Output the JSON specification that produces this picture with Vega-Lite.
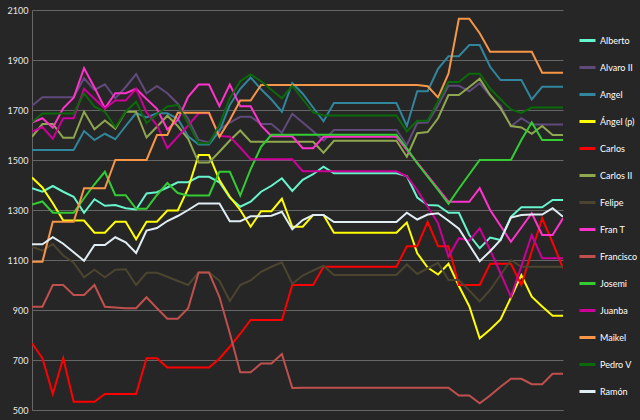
{
"$schema": "https://vega.github.io/schema/vega-lite/v6.json",
"width": 531, "height": 400,
"autosize": {"type": "none"},
"padding": {"left": 32, "top": 10, "right": 77, "bottom": 10},
"background": "#262626",
"config": {"view": {"stroke": null}, "font": "Lato"},
"data": {"values": [
{"s":"Alberto","x":0,"y":1387},{"s":"Alberto","x":1,"y":1373},{"s":"Alberto","x":2,"y":1396},{"s":"Alberto","x":3,"y":1373},{"s":"Alberto","x":4,"y":1353},{"s":"Alberto","x":5,"y":1289},{"s":"Alberto","x":6,"y":1343},{"s":"Alberto","x":7,"y":1317},{"s":"Alberto","x":8,"y":1320},{"s":"Alberto","x":9,"y":1307},{"s":"Alberto","x":10,"y":1302},{"s":"Alberto","x":11,"y":1366},{"s":"Alberto","x":12,"y":1371},{"s":"Alberto","x":13,"y":1390},{"s":"Alberto","x":14,"y":1411},{"s":"Alberto","x":15,"y":1411},{"s":"Alberto","x":16,"y":1433},{"s":"Alberto","x":17,"y":1433},{"s":"Alberto","x":18,"y":1411},{"s":"Alberto","x":19,"y":1350},{"s":"Alberto","x":20,"y":1313},{"s":"Alberto","x":21,"y":1333},{"s":"Alberto","x":22,"y":1373},{"s":"Alberto","x":23,"y":1397},{"s":"Alberto","x":24,"y":1427},{"s":"Alberto","x":25,"y":1376},{"s":"Alberto","x":26,"y":1421},{"s":"Alberto","x":27,"y":1443},{"s":"Alberto","x":28,"y":1473},{"s":"Alberto","x":29,"y":1447},{"s":"Alberto","x":30,"y":1447},{"s":"Alberto","x":31,"y":1447},{"s":"Alberto","x":32,"y":1447},{"s":"Alberto","x":33,"y":1447},{"s":"Alberto","x":34,"y":1447},{"s":"Alberto","x":35,"y":1447},{"s":"Alberto","x":36,"y":1436},{"s":"Alberto","x":37,"y":1350},{"s":"Alberto","x":38,"y":1320},{"s":"Alberto","x":39,"y":1318},{"s":"Alberto","x":40,"y":1289},{"s":"Alberto","x":41,"y":1289},{"s":"Alberto","x":42,"y":1200},{"s":"Alberto","x":43,"y":1147},{"s":"Alberto","x":44,"y":1190},{"s":"Alberto","x":45,"y":1180},{"s":"Alberto","x":46,"y":1273},{"s":"Alberto","x":47,"y":1311},{"s":"Alberto","x":48,"y":1311},{"s":"Alberto","x":49,"y":1311},{"s":"Alberto","x":50,"y":1340},{"s":"Alberto","x":51,"y":1340},
{"s":"Alvaro II","x":0,"y":1717},{"s":"Alvaro II","x":1,"y":1751},{"s":"Alvaro II","x":2,"y":1751},{"s":"Alvaro II","x":3,"y":1751},{"s":"Alvaro II","x":4,"y":1751},{"s":"Alvaro II","x":5,"y":1827},{"s":"Alvaro II","x":6,"y":1780},{"s":"Alvaro II","x":7,"y":1803},{"s":"Alvaro II","x":8,"y":1747},{"s":"Alvaro II","x":9,"y":1792},{"s":"Alvaro II","x":10,"y":1844},{"s":"Alvaro II","x":11,"y":1767},{"s":"Alvaro II","x":12,"y":1796},{"s":"Alvaro II","x":13,"y":1767},{"s":"Alvaro II","x":14,"y":1725},{"s":"Alvaro II","x":15,"y":1665},{"s":"Alvaro II","x":16,"y":1580},{"s":"Alvaro II","x":17,"y":1570},{"s":"Alvaro II","x":18,"y":1622},{"s":"Alvaro II","x":19,"y":1650},{"s":"Alvaro II","x":20,"y":1673},{"s":"Alvaro II","x":21,"y":1673},{"s":"Alvaro II","x":22,"y":1644},{"s":"Alvaro II","x":23,"y":1644},{"s":"Alvaro II","x":24,"y":1609},{"s":"Alvaro II","x":25,"y":1685},{"s":"Alvaro II","x":26,"y":1650},{"s":"Alvaro II","x":27,"y":1615},{"s":"Alvaro II","x":28,"y":1578},{"s":"Alvaro II","x":29,"y":1620},{"s":"Alvaro II","x":30,"y":1620},{"s":"Alvaro II","x":31,"y":1620},{"s":"Alvaro II","x":32,"y":1620},{"s":"Alvaro II","x":33,"y":1620},{"s":"Alvaro II","x":34,"y":1620},{"s":"Alvaro II","x":35,"y":1620},{"s":"Alvaro II","x":36,"y":1560},{"s":"Alvaro II","x":37,"y":1648},{"s":"Alvaro II","x":38,"y":1650},{"s":"Alvaro II","x":39,"y":1718},{"s":"Alvaro II","x":40,"y":1797},{"s":"Alvaro II","x":41,"y":1797},{"s":"Alvaro II","x":42,"y":1775},{"s":"Alvaro II","x":43,"y":1807},{"s":"Alvaro II","x":44,"y":1757},{"s":"Alvaro II","x":45,"y":1718},{"s":"Alvaro II","x":46,"y":1635},{"s":"Alvaro II","x":47,"y":1667},{"s":"Alvaro II","x":48,"y":1642},{"s":"Alvaro II","x":49,"y":1642},{"s":"Alvaro II","x":50,"y":1642},{"s":"Alvaro II","x":51,"y":1642},
{"s":"Angel","x":0,"y":1540},{"s":"Angel","x":1,"y":1540},{"s":"Angel","x":2,"y":1540},{"s":"Angel","x":3,"y":1540},{"s":"Angel","x":4,"y":1540},{"s":"Angel","x":5,"y":1616},{"s":"Angel","x":6,"y":1580},{"s":"Angel","x":7,"y":1605},{"s":"Angel","x":8,"y":1583},{"s":"Angel","x":9,"y":1636},{"s":"Angel","x":10,"y":1688},{"s":"Angel","x":11,"y":1670},{"s":"Angel","x":12,"y":1687},{"s":"Angel","x":13,"y":1687},{"s":"Angel","x":14,"y":1665},{"s":"Angel","x":15,"y":1595},{"s":"Angel","x":16,"y":1562},{"s":"Angel","x":17,"y":1562},{"s":"Angel","x":18,"y":1615},{"s":"Angel","x":19,"y":1720},{"s":"Angel","x":20,"y":1785},{"s":"Angel","x":21,"y":1830},{"s":"Angel","x":22,"y":1783},{"s":"Angel","x":23,"y":1742},{"s":"Angel","x":24,"y":1693},{"s":"Angel","x":25,"y":1808},{"s":"Angel","x":26,"y":1765},{"s":"Angel","x":27,"y":1710},{"s":"Angel","x":28,"y":1655},{"s":"Angel","x":29,"y":1728},{"s":"Angel","x":30,"y":1728},{"s":"Angel","x":31,"y":1728},{"s":"Angel","x":32,"y":1728},{"s":"Angel","x":33,"y":1728},{"s":"Angel","x":34,"y":1728},{"s":"Angel","x":35,"y":1728},{"s":"Angel","x":36,"y":1636},{"s":"Angel","x":37,"y":1775},{"s":"Angel","x":38,"y":1775},{"s":"Angel","x":39,"y":1865},{"s":"Angel","x":40,"y":1915},{"s":"Angel","x":41,"y":1915},{"s":"Angel","x":42,"y":1960},{"s":"Angel","x":43,"y":1960},{"s":"Angel","x":44,"y":1873},{"s":"Angel","x":45,"y":1820},{"s":"Angel","x":46,"y":1820},{"s":"Angel","x":47,"y":1820},{"s":"Angel","x":48,"y":1742},{"s":"Angel","x":49,"y":1793},{"s":"Angel","x":50,"y":1793},{"s":"Angel","x":51,"y":1793},
{"s":"Ángel (p)","x":0,"y":1430},{"s":"Ángel (p)","x":1,"y":1390},{"s":"Ángel (p)","x":2,"y":1327},{"s":"Ángel (p)","x":3,"y":1258},{"s":"Ángel (p)","x":4,"y":1258},{"s":"Ángel (p)","x":5,"y":1258},{"s":"Ángel (p)","x":6,"y":1209},{"s":"Ángel (p)","x":7,"y":1209},{"s":"Ángel (p)","x":8,"y":1253},{"s":"Ángel (p)","x":9,"y":1253},{"s":"Ángel (p)","x":10,"y":1183},{"s":"Ángel (p)","x":11,"y":1253},{"s":"Ángel (p)","x":12,"y":1253},{"s":"Ángel (p)","x":13,"y":1298},{"s":"Ángel (p)","x":14,"y":1298},{"s":"Ángel (p)","x":15,"y":1387},{"s":"Ángel (p)","x":16,"y":1520},{"s":"Ángel (p)","x":17,"y":1520},{"s":"Ángel (p)","x":18,"y":1420},{"s":"Ángel (p)","x":19,"y":1353},{"s":"Ángel (p)","x":20,"y":1300},{"s":"Ángel (p)","x":21,"y":1233},{"s":"Ángel (p)","x":22,"y":1295},{"s":"Ángel (p)","x":23,"y":1295},{"s":"Ángel (p)","x":24,"y":1345},{"s":"Ángel (p)","x":25,"y":1233},{"s":"Ángel (p)","x":26,"y":1233},{"s":"Ángel (p)","x":27,"y":1280},{"s":"Ángel (p)","x":28,"y":1280},{"s":"Ángel (p)","x":29,"y":1209},{"s":"Ángel (p)","x":30,"y":1209},{"s":"Ángel (p)","x":31,"y":1209},{"s":"Ángel (p)","x":32,"y":1209},{"s":"Ángel (p)","x":33,"y":1209},{"s":"Ángel (p)","x":34,"y":1209},{"s":"Ángel (p)","x":35,"y":1209},{"s":"Ángel (p)","x":36,"y":1250},{"s":"Ángel (p)","x":37,"y":1127},{"s":"Ángel (p)","x":38,"y":1070},{"s":"Ángel (p)","x":39,"y":1042},{"s":"Ángel (p)","x":40,"y":1085},{"s":"Ángel (p)","x":41,"y":996},{"s":"Ángel (p)","x":42,"y":915},{"s":"Ángel (p)","x":43,"y":787},{"s":"Ángel (p)","x":44,"y":822},{"s":"Ángel (p)","x":45,"y":862},{"s":"Ángel (p)","x":46,"y":950},{"s":"Ángel (p)","x":47,"y":1040},{"s":"Ángel (p)","x":48,"y":953},{"s":"Ángel (p)","x":49,"y":914},{"s":"Ángel (p)","x":50,"y":877},{"s":"Ángel (p)","x":51,"y":877},
{"s":"Carlos","x":0,"y":767},{"s":"Carlos","x":1,"y":707},{"s":"Carlos","x":2,"y":564},{"s":"Carlos","x":3,"y":707},{"s":"Carlos","x":4,"y":533},{"s":"Carlos","x":5,"y":533},{"s":"Carlos","x":6,"y":533},{"s":"Carlos","x":7,"y":564},{"s":"Carlos","x":8,"y":564},{"s":"Carlos","x":9,"y":564},{"s":"Carlos","x":10,"y":564},{"s":"Carlos","x":11,"y":707},{"s":"Carlos","x":12,"y":707},{"s":"Carlos","x":13,"y":670},{"s":"Carlos","x":14,"y":670},{"s":"Carlos","x":15,"y":670},{"s":"Carlos","x":16,"y":670},{"s":"Carlos","x":17,"y":670},{"s":"Carlos","x":18,"y":705},{"s":"Carlos","x":19,"y":753},{"s":"Carlos","x":20,"y":805},{"s":"Carlos","x":21,"y":860},{"s":"Carlos","x":22,"y":860},{"s":"Carlos","x":23,"y":860},{"s":"Carlos","x":24,"y":860},{"s":"Carlos","x":25,"y":1000},{"s":"Carlos","x":26,"y":1000},{"s":"Carlos","x":27,"y":1000},{"s":"Carlos","x":28,"y":1073},{"s":"Carlos","x":29,"y":1073},{"s":"Carlos","x":30,"y":1073},{"s":"Carlos","x":31,"y":1073},{"s":"Carlos","x":32,"y":1073},{"s":"Carlos","x":33,"y":1073},{"s":"Carlos","x":34,"y":1073},{"s":"Carlos","x":35,"y":1073},{"s":"Carlos","x":36,"y":1155},{"s":"Carlos","x":37,"y":1155},{"s":"Carlos","x":38,"y":1253},{"s":"Carlos","x":39,"y":1155},{"s":"Carlos","x":40,"y":1155},{"s":"Carlos","x":41,"y":1000},{"s":"Carlos","x":42,"y":1000},{"s":"Carlos","x":43,"y":1000},{"s":"Carlos","x":44,"y":1085},{"s":"Carlos","x":45,"y":1085},{"s":"Carlos","x":46,"y":1085},{"s":"Carlos","x":47,"y":1000},{"s":"Carlos","x":48,"y":1135},{"s":"Carlos","x":49,"y":1267},{"s":"Carlos","x":50,"y":1170},{"s":"Carlos","x":51,"y":1067},
{"s":"Carlos II","x":0,"y":1593},{"s":"Carlos II","x":1,"y":1644},{"s":"Carlos II","x":2,"y":1644},{"s":"Carlos II","x":3,"y":1589},{"s":"Carlos II","x":4,"y":1589},{"s":"Carlos II","x":5,"y":1693},{"s":"Carlos II","x":6,"y":1623},{"s":"Carlos II","x":7,"y":1658},{"s":"Carlos II","x":8,"y":1625},{"s":"Carlos II","x":9,"y":1693},{"s":"Carlos II","x":10,"y":1693},{"s":"Carlos II","x":11,"y":1590},{"s":"Carlos II","x":12,"y":1633},{"s":"Carlos II","x":13,"y":1677},{"s":"Carlos II","x":14,"y":1636},{"s":"Carlos II","x":15,"y":1585},{"s":"Carlos II","x":16,"y":1490},{"s":"Carlos II","x":17,"y":1490},{"s":"Carlos II","x":18,"y":1533},{"s":"Carlos II","x":19,"y":1578},{"s":"Carlos II","x":20,"y":1618},{"s":"Carlos II","x":21,"y":1573},{"s":"Carlos II","x":22,"y":1573},{"s":"Carlos II","x":23,"y":1573},{"s":"Carlos II","x":24,"y":1573},{"s":"Carlos II","x":25,"y":1573},{"s":"Carlos II","x":26,"y":1573},{"s":"Carlos II","x":27,"y":1573},{"s":"Carlos II","x":28,"y":1529},{"s":"Carlos II","x":29,"y":1577},{"s":"Carlos II","x":30,"y":1577},{"s":"Carlos II","x":31,"y":1577},{"s":"Carlos II","x":32,"y":1577},{"s":"Carlos II","x":33,"y":1577},{"s":"Carlos II","x":34,"y":1577},{"s":"Carlos II","x":35,"y":1577},{"s":"Carlos II","x":36,"y":1513},{"s":"Carlos II","x":37,"y":1607},{"s":"Carlos II","x":38,"y":1612},{"s":"Carlos II","x":39,"y":1667},{"s":"Carlos II","x":40,"y":1760},{"s":"Carlos II","x":41,"y":1760},{"s":"Carlos II","x":42,"y":1792},{"s":"Carlos II","x":43,"y":1825},{"s":"Carlos II","x":44,"y":1760},{"s":"Carlos II","x":45,"y":1708},{"s":"Carlos II","x":46,"y":1636},{"s":"Carlos II","x":47,"y":1630},{"s":"Carlos II","x":48,"y":1605},{"s":"Carlos II","x":49,"y":1636},{"s":"Carlos II","x":50,"y":1600},{"s":"Carlos II","x":51,"y":1600},
{"s":"Felipe","x":0,"y":1153},{"s":"Felipe","x":1,"y":1137},{"s":"Felipe","x":2,"y":1164},{"s":"Felipe","x":3,"y":1118},{"s":"Felipe","x":4,"y":1089},{"s":"Felipe","x":5,"y":1031},{"s":"Felipe","x":6,"y":1061},{"s":"Felipe","x":7,"y":1031},{"s":"Felipe","x":8,"y":1061},{"s":"Felipe","x":9,"y":1063},{"s":"Felipe","x":10,"y":1000},{"s":"Felipe","x":11,"y":1049},{"s":"Felipe","x":12,"y":1049},{"s":"Felipe","x":13,"y":1033},{"s":"Felipe","x":14,"y":1016},{"s":"Felipe","x":15,"y":1000},{"s":"Felipe","x":16,"y":1050},{"s":"Felipe","x":17,"y":1050},{"s":"Felipe","x":18,"y":1017},{"s":"Felipe","x":19,"y":936},{"s":"Felipe","x":20,"y":1000},{"s":"Felipe","x":21,"y":1018},{"s":"Felipe","x":22,"y":1053},{"s":"Felipe","x":23,"y":1073},{"s":"Felipe","x":24,"y":1091},{"s":"Felipe","x":25,"y":1005},{"s":"Felipe","x":26,"y":1038},{"s":"Felipe","x":27,"y":1058},{"s":"Felipe","x":28,"y":1077},{"s":"Felipe","x":29,"y":1040},{"s":"Felipe","x":30,"y":1040},{"s":"Felipe","x":31,"y":1040},{"s":"Felipe","x":32,"y":1040},{"s":"Felipe","x":33,"y":1040},{"s":"Felipe","x":34,"y":1040},{"s":"Felipe","x":35,"y":1040},{"s":"Felipe","x":36,"y":1082},{"s":"Felipe","x":37,"y":1044},{"s":"Felipe","x":38,"y":1067},{"s":"Felipe","x":39,"y":1089},{"s":"Felipe","x":40,"y":1020},{"s":"Felipe","x":41,"y":1020},{"s":"Felipe","x":42,"y":978},{"s":"Felipe","x":43,"y":934},{"s":"Felipe","x":44,"y":980},{"s":"Felipe","x":45,"y":1040},{"s":"Felipe","x":46,"y":1100},{"s":"Felipe","x":47,"y":1073},{"s":"Felipe","x":48,"y":1073},{"s":"Felipe","x":49,"y":1073},{"s":"Felipe","x":50,"y":1073},{"s":"Felipe","x":51,"y":1073},
{"s":"Fran T","x":0,"y":1650},{"s":"Fran T","x":1,"y":1667},{"s":"Fran T","x":2,"y":1629},{"s":"Fran T","x":3,"y":1707},{"s":"Fran T","x":4,"y":1749},{"s":"Fran T","x":5,"y":1867},{"s":"Fran T","x":6,"y":1790},{"s":"Fran T","x":7,"y":1707},{"s":"Fran T","x":8,"y":1767},{"s":"Fran T","x":9,"y":1767},{"s":"Fran T","x":10,"y":1785},{"s":"Fran T","x":11,"y":1744},{"s":"Fran T","x":12,"y":1705},{"s":"Fran T","x":13,"y":1622},{"s":"Fran T","x":14,"y":1660},{"s":"Fran T","x":15,"y":1753},{"s":"Fran T","x":16,"y":1802},{"s":"Fran T","x":17,"y":1802},{"s":"Fran T","x":18,"y":1715},{"s":"Fran T","x":19,"y":1802},{"s":"Fran T","x":20,"y":1715},{"s":"Fran T","x":21,"y":1715},{"s":"Fran T","x":22,"y":1638},{"s":"Fran T","x":23,"y":1595},{"s":"Fran T","x":24,"y":1595},{"s":"Fran T","x":25,"y":1595},{"s":"Fran T","x":26,"y":1547},{"s":"Fran T","x":27,"y":1547},{"s":"Fran T","x":28,"y":1593},{"s":"Fran T","x":29,"y":1593},{"s":"Fran T","x":30,"y":1593},{"s":"Fran T","x":31,"y":1593},{"s":"Fran T","x":32,"y":1593},{"s":"Fran T","x":33,"y":1593},{"s":"Fran T","x":34,"y":1593},{"s":"Fran T","x":35,"y":1593},{"s":"Fran T","x":36,"y":1541},{"s":"Fran T","x":37,"y":1489},{"s":"Fran T","x":38,"y":1437},{"s":"Fran T","x":39,"y":1385},{"s":"Fran T","x":40,"y":1333},{"s":"Fran T","x":41,"y":1333},{"s":"Fran T","x":42,"y":1333},{"s":"Fran T","x":43,"y":1387},{"s":"Fran T","x":44,"y":1300},{"s":"Fran T","x":45,"y":1237},{"s":"Fran T","x":46,"y":1173},{"s":"Fran T","x":47,"y":1230},{"s":"Fran T","x":48,"y":1287},{"s":"Fran T","x":49,"y":1200},{"s":"Fran T","x":50,"y":1200},{"s":"Fran T","x":51,"y":1267},
{"s":"Francisco","x":0,"y":913},{"s":"Francisco","x":1,"y":913},{"s":"Francisco","x":2,"y":1000},{"s":"Francisco","x":3,"y":1000},{"s":"Francisco","x":4,"y":960},{"s":"Francisco","x":5,"y":960},{"s":"Francisco","x":6,"y":1000},{"s":"Francisco","x":7,"y":913},{"s":"Francisco","x":8,"y":910},{"s":"Francisco","x":9,"y":907},{"s":"Francisco","x":10,"y":907},{"s":"Francisco","x":11,"y":951},{"s":"Francisco","x":12,"y":907},{"s":"Francisco","x":13,"y":865},{"s":"Francisco","x":14,"y":865},{"s":"Francisco","x":15,"y":907},{"s":"Francisco","x":16,"y":1050},{"s":"Francisco","x":17,"y":1050},{"s":"Francisco","x":18,"y":953},{"s":"Francisco","x":19,"y":807},{"s":"Francisco","x":20,"y":651},{"s":"Francisco","x":21,"y":651},{"s":"Francisco","x":22,"y":686},{"s":"Francisco","x":23,"y":686},{"s":"Francisco","x":24,"y":724},{"s":"Francisco","x":25,"y":588},{"s":"Francisco","x":26,"y":589},{"s":"Francisco","x":27,"y":589},{"s":"Francisco","x":28,"y":589},{"s":"Francisco","x":29,"y":589},{"s":"Francisco","x":30,"y":589},{"s":"Francisco","x":31,"y":589},{"s":"Francisco","x":32,"y":589},{"s":"Francisco","x":33,"y":589},{"s":"Francisco","x":34,"y":589},{"s":"Francisco","x":35,"y":589},{"s":"Francisco","x":36,"y":589},{"s":"Francisco","x":37,"y":589},{"s":"Francisco","x":38,"y":589},{"s":"Francisco","x":39,"y":589},{"s":"Francisco","x":40,"y":589},{"s":"Francisco","x":41,"y":558},{"s":"Francisco","x":42,"y":558},{"s":"Francisco","x":43,"y":527},{"s":"Francisco","x":44,"y":558},{"s":"Francisco","x":45,"y":593},{"s":"Francisco","x":46,"y":625},{"s":"Francisco","x":47,"y":625},{"s":"Francisco","x":48,"y":603},{"s":"Francisco","x":49,"y":603},{"s":"Francisco","x":50,"y":645},{"s":"Francisco","x":51,"y":645},
{"s":"Josemi","x":0,"y":1322},{"s":"Josemi","x":1,"y":1334},{"s":"Josemi","x":2,"y":1289},{"s":"Josemi","x":3,"y":1289},{"s":"Josemi","x":4,"y":1289},{"s":"Josemi","x":5,"y":1347},{"s":"Josemi","x":6,"y":1403},{"s":"Josemi","x":7,"y":1453},{"s":"Josemi","x":8,"y":1359},{"s":"Josemi","x":9,"y":1359},{"s":"Josemi","x":10,"y":1305},{"s":"Josemi","x":11,"y":1305},{"s":"Josemi","x":12,"y":1360},{"s":"Josemi","x":13,"y":1408},{"s":"Josemi","x":14,"y":1368},{"s":"Josemi","x":15,"y":1358},{"s":"Josemi","x":16,"y":1358},{"s":"Josemi","x":17,"y":1358},{"s":"Josemi","x":18,"y":1453},{"s":"Josemi","x":19,"y":1453},{"s":"Josemi","x":20,"y":1358},{"s":"Josemi","x":21,"y":1463},{"s":"Josemi","x":22,"y":1553},{"s":"Josemi","x":23,"y":1601},{"s":"Josemi","x":24,"y":1601},{"s":"Josemi","x":25,"y":1601},{"s":"Josemi","x":26,"y":1601},{"s":"Josemi","x":27,"y":1601},{"s":"Josemi","x":28,"y":1601},{"s":"Josemi","x":29,"y":1601},{"s":"Josemi","x":30,"y":1601},{"s":"Josemi","x":31,"y":1601},{"s":"Josemi","x":32,"y":1601},{"s":"Josemi","x":33,"y":1601},{"s":"Josemi","x":34,"y":1601},{"s":"Josemi","x":35,"y":1601},{"s":"Josemi","x":36,"y":1547},{"s":"Josemi","x":37,"y":1487},{"s":"Josemi","x":38,"y":1433},{"s":"Josemi","x":39,"y":1380},{"s":"Josemi","x":40,"y":1325},{"s":"Josemi","x":41,"y":1385},{"s":"Josemi","x":42,"y":1443},{"s":"Josemi","x":43,"y":1500},{"s":"Josemi","x":44,"y":1500},{"s":"Josemi","x":45,"y":1500},{"s":"Josemi","x":46,"y":1500},{"s":"Josemi","x":47,"y":1580},{"s":"Josemi","x":48,"y":1650},{"s":"Josemi","x":49,"y":1580},{"s":"Josemi","x":50,"y":1580},{"s":"Josemi","x":51,"y":1580},
{"s":"Juanba","x":0,"y":1614},{"s":"Juanba","x":1,"y":1632},{"s":"Juanba","x":2,"y":1585},{"s":"Juanba","x":3,"y":1667},{"s":"Juanba","x":4,"y":1667},{"s":"Juanba","x":5,"y":1785},{"s":"Juanba","x":6,"y":1745},{"s":"Juanba","x":7,"y":1705},{"s":"Juanba","x":8,"y":1738},{"s":"Juanba","x":9,"y":1738},{"s":"Juanba","x":10,"y":1785},{"s":"Juanba","x":11,"y":1690},{"s":"Juanba","x":12,"y":1640},{"s":"Juanba","x":13,"y":1547},{"s":"Juanba","x":14,"y":1593},{"s":"Juanba","x":15,"y":1638},{"s":"Juanba","x":16,"y":1687},{"s":"Juanba","x":17,"y":1687},{"s":"Juanba","x":18,"y":1596},{"s":"Juanba","x":19,"y":1593},{"s":"Juanba","x":20,"y":1550},{"s":"Juanba","x":21,"y":1503},{"s":"Juanba","x":22,"y":1503},{"s":"Juanba","x":23,"y":1503},{"s":"Juanba","x":24,"y":1503},{"s":"Juanba","x":25,"y":1503},{"s":"Juanba","x":26,"y":1455},{"s":"Juanba","x":27,"y":1455},{"s":"Juanba","x":28,"y":1455},{"s":"Juanba","x":29,"y":1455},{"s":"Juanba","x":30,"y":1455},{"s":"Juanba","x":31,"y":1455},{"s":"Juanba","x":32,"y":1455},{"s":"Juanba","x":33,"y":1455},{"s":"Juanba","x":34,"y":1455},{"s":"Juanba","x":35,"y":1455},{"s":"Juanba","x":36,"y":1435},{"s":"Juanba","x":37,"y":1380},{"s":"Juanba","x":38,"y":1313},{"s":"Juanba","x":39,"y":1247},{"s":"Juanba","x":40,"y":1113},{"s":"Juanba","x":41,"y":1187},{"s":"Juanba","x":42,"y":1177},{"s":"Juanba","x":43,"y":1227},{"s":"Juanba","x":44,"y":1140},{"s":"Juanba","x":45,"y":1047},{"s":"Juanba","x":46,"y":953},{"s":"Juanba","x":47,"y":1075},{"s":"Juanba","x":48,"y":1200},{"s":"Juanba","x":49,"y":1107},{"s":"Juanba","x":50,"y":1107},{"s":"Juanba","x":51,"y":1107},
{"s":"Maikel","x":0,"y":1093},{"s":"Maikel","x":1,"y":1093},{"s":"Maikel","x":2,"y":1253},{"s":"Maikel","x":3,"y":1253},{"s":"Maikel","x":4,"y":1253},{"s":"Maikel","x":5,"y":1387},{"s":"Maikel","x":6,"y":1387},{"s":"Maikel","x":7,"y":1387},{"s":"Maikel","x":8,"y":1500},{"s":"Maikel","x":9,"y":1500},{"s":"Maikel","x":10,"y":1500},{"s":"Maikel","x":11,"y":1500},{"s":"Maikel","x":12,"y":1600},{"s":"Maikel","x":13,"y":1600},{"s":"Maikel","x":14,"y":1689},{"s":"Maikel","x":15,"y":1689},{"s":"Maikel","x":16,"y":1689},{"s":"Maikel","x":17,"y":1689},{"s":"Maikel","x":18,"y":1593},{"s":"Maikel","x":19,"y":1660},{"s":"Maikel","x":20,"y":1738},{"s":"Maikel","x":21,"y":1738},{"s":"Maikel","x":22,"y":1800},{"s":"Maikel","x":23,"y":1800},{"s":"Maikel","x":24,"y":1800},{"s":"Maikel","x":25,"y":1800},{"s":"Maikel","x":26,"y":1800},{"s":"Maikel","x":27,"y":1800},{"s":"Maikel","x":28,"y":1800},{"s":"Maikel","x":29,"y":1800},{"s":"Maikel","x":30,"y":1800},{"s":"Maikel","x":31,"y":1800},{"s":"Maikel","x":32,"y":1800},{"s":"Maikel","x":33,"y":1800},{"s":"Maikel","x":34,"y":1800},{"s":"Maikel","x":35,"y":1800},{"s":"Maikel","x":36,"y":1800},{"s":"Maikel","x":37,"y":1800},{"s":"Maikel","x":38,"y":1795},{"s":"Maikel","x":39,"y":1750},{"s":"Maikel","x":40,"y":1845},{"s":"Maikel","x":41,"y":2065},{"s":"Maikel","x":42,"y":2065},{"s":"Maikel","x":43,"y":2007},{"s":"Maikel","x":44,"y":1933},{"s":"Maikel","x":45,"y":1933},{"s":"Maikel","x":46,"y":1933},{"s":"Maikel","x":47,"y":1933},{"s":"Maikel","x":48,"y":1933},{"s":"Maikel","x":49,"y":1849},{"s":"Maikel","x":50,"y":1849},{"s":"Maikel","x":51,"y":1849},
{"s":"Pedro V","x":0,"y":1651},{"s":"Pedro V","x":1,"y":1686},{"s":"Pedro V","x":2,"y":1686},{"s":"Pedro V","x":3,"y":1686},{"s":"Pedro V","x":4,"y":1686},{"s":"Pedro V","x":5,"y":1767},{"s":"Pedro V","x":6,"y":1713},{"s":"Pedro V","x":7,"y":1693},{"s":"Pedro V","x":8,"y":1631},{"s":"Pedro V","x":9,"y":1693},{"s":"Pedro V","x":10,"y":1733},{"s":"Pedro V","x":11,"y":1648},{"s":"Pedro V","x":12,"y":1682},{"s":"Pedro V","x":13,"y":1714},{"s":"Pedro V","x":14,"y":1720},{"s":"Pedro V","x":15,"y":1647},{"s":"Pedro V","x":16,"y":1567},{"s":"Pedro V","x":17,"y":1567},{"s":"Pedro V","x":18,"y":1640},{"s":"Pedro V","x":19,"y":1747},{"s":"Pedro V","x":20,"y":1815},{"s":"Pedro V","x":21,"y":1842},{"s":"Pedro V","x":22,"y":1815},{"s":"Pedro V","x":23,"y":1781},{"s":"Pedro V","x":24,"y":1747},{"s":"Pedro V","x":25,"y":1797},{"s":"Pedro V","x":26,"y":1743},{"s":"Pedro V","x":27,"y":1690},{"s":"Pedro V","x":28,"y":1678},{"s":"Pedro V","x":29,"y":1678},{"s":"Pedro V","x":30,"y":1678},{"s":"Pedro V","x":31,"y":1678},{"s":"Pedro V","x":32,"y":1678},{"s":"Pedro V","x":33,"y":1678},{"s":"Pedro V","x":34,"y":1678},{"s":"Pedro V","x":35,"y":1678},{"s":"Pedro V","x":36,"y":1614},{"s":"Pedro V","x":37,"y":1657},{"s":"Pedro V","x":38,"y":1657},{"s":"Pedro V","x":39,"y":1735},{"s":"Pedro V","x":40,"y":1812},{"s":"Pedro V","x":41,"y":1812},{"s":"Pedro V","x":42,"y":1845},{"s":"Pedro V","x":43,"y":1845},{"s":"Pedro V","x":44,"y":1786},{"s":"Pedro V","x":45,"y":1743},{"s":"Pedro V","x":46,"y":1702},{"s":"Pedro V","x":47,"y":1688},{"s":"Pedro V","x":48,"y":1710},{"s":"Pedro V","x":49,"y":1710},{"s":"Pedro V","x":50,"y":1710},{"s":"Pedro V","x":51,"y":1710},
{"s":"Ramón","x":0,"y":1163},{"s":"Ramón","x":1,"y":1163},{"s":"Ramón","x":2,"y":1191},{"s":"Ramón","x":3,"y":1165},{"s":"Ramón","x":4,"y":1131},{"s":"Ramón","x":5,"y":1097},{"s":"Ramón","x":6,"y":1160},{"s":"Ramón","x":7,"y":1160},{"s":"Ramón","x":8,"y":1191},{"s":"Ramón","x":9,"y":1171},{"s":"Ramón","x":10,"y":1128},{"s":"Ramón","x":11,"y":1218},{"s":"Ramón","x":12,"y":1228},{"s":"Ramón","x":13,"y":1256},{"s":"Ramón","x":14,"y":1276},{"s":"Ramón","x":15,"y":1300},{"s":"Ramón","x":16,"y":1326},{"s":"Ramón","x":17,"y":1326},{"s":"Ramón","x":18,"y":1326},{"s":"Ramón","x":19,"y":1255},{"s":"Ramón","x":20,"y":1255},{"s":"Ramón","x":21,"y":1275},{"s":"Ramón","x":22,"y":1275},{"s":"Ramón","x":23,"y":1277},{"s":"Ramón","x":24,"y":1293},{"s":"Ramón","x":25,"y":1223},{"s":"Ramón","x":26,"y":1260},{"s":"Ramón","x":27,"y":1280},{"s":"Ramón","x":28,"y":1280},{"s":"Ramón","x":29,"y":1252},{"s":"Ramón","x":30,"y":1252},{"s":"Ramón","x":31,"y":1252},{"s":"Ramón","x":32,"y":1252},{"s":"Ramón","x":33,"y":1252},{"s":"Ramón","x":34,"y":1252},{"s":"Ramón","x":35,"y":1252},{"s":"Ramón","x":36,"y":1289},{"s":"Ramón","x":37,"y":1262},{"s":"Ramón","x":38,"y":1282},{"s":"Ramón","x":39,"y":1287},{"s":"Ramón","x":40,"y":1257},{"s":"Ramón","x":41,"y":1225},{"s":"Ramón","x":42,"y":1160},{"s":"Ramón","x":43,"y":1095},{"s":"Ramón","x":44,"y":1135},{"s":"Ramón","x":45,"y":1180},{"s":"Ramón","x":46,"y":1270},{"s":"Ramón","x":47,"y":1280},{"s":"Ramón","x":48,"y":1282},{"s":"Ramón","x":49,"y":1282},{"s":"Ramón","x":50,"y":1307},{"s":"Ramón","x":51,"y":1273}
]},
"mark": {"type": "line", "strokeWidth": 2, "clip": true},
"encoding": {
  "x": {"field": "x", "type": "quantitative", "scale": {"domain": [0, 51], "nice": false, "zero": false},
        "axis": {"title": null, "labels": false, "ticks": false, "grid": false, "domainColor": "#666666", "domainWidth": 1}},
  "y": {"field": "y", "type": "quantitative", "scale": {"domain": [500, 2100], "nice": false, "zero": false},
        "axis": {"title": null, "values": [500, 700, 900, 1100, 1300, 1500, 1700, 1900, 2100], "format": "d", "grid": true, "gridColor": "#666666", "gridWidth": 1,
                 "domainColor": "#666666", "ticks": false, "labelColor": "#E8E8E8", "labelFontSize": 9, "labelPadding": 4, "labelFont": "Lato"}},
  "color": {"field": "s", "type": "nominal",
    "scale": {"domain": ["Alberto","Alvaro II","Angel","Ángel (p)","Carlos","Carlos II","Felipe","Fran T","Francisco","Josemi","Juanba","Maikel","Pedro V","Ramón"],
              "range": ["#66F5CC","#604A7B","#31859C","#FFFF00","#FF0000","#8FA84F","#4B4530","#FF33CC","#C0504D","#33CC33","#CC0099","#F79646","#0A6A0A","#E0EEF4"]},
    "legend": {"title": null, "orient": "none", "legendX": 546, "legendY": 21, "padding": 0, "symbolType": "stroke", "symbolStrokeWidth": 3, "symbolSize": 256,
               "labelColor": "#FFFFFF", "labelFontSize": 9, "labelFont": "Lato", "labelOffset": 3, "rowPadding": 11, "labelLimit": 60}}
}
}
